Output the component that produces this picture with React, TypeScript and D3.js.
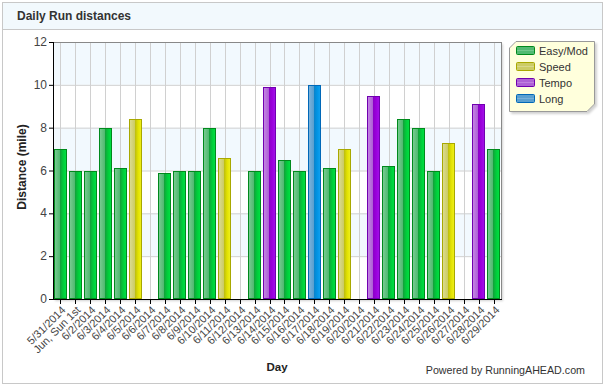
import React from "react";
import * as d3 from "d3";

// days shown on the x axis
const days = [
  "5/31/2014", "Jun, Sun 1st", "6/2/2014", "6/3/2014", "6/4/2014", "6/5/2014",
  "6/6/2014", "6/7/2014", "6/8/2014", "6/9/2014", "6/10/2014", "6/11/2014",
  "6/12/2014", "6/13/2014", "6/14/2014", "6/15/2014", "6/16/2014", "6/17/2014",
  "6/18/2014", "6/19/2014", "6/20/2014", "6/21/2014", "6/22/2014", "6/23/2014",
  "6/24/2014", "6/25/2014", "6/26/2014", "6/27/2014", "6/28/2014", "6/29/2014",
];

// miles per day (null = rest day)
const distances = [
  7, 6, 6, 8, 6.1, 8.4, null, 5.9, 6, 6, 8, 6.6, null, 6, 9.9, 6.5, 6, 10, 6.1, 7,
  null, 9.5, 6.2, 8.4, 8, 6, 7.3, null, 9.1, 7,
];

const runTypes = [
  "Easy/Mod", "Easy/Mod", "Easy/Mod", "Easy/Mod", "Easy/Mod", "Speed", "", "Easy/Mod",
  "Easy/Mod", "Easy/Mod", "Easy/Mod", "Speed", "", "Easy/Mod", "Tempo", "Easy/Mod",
  "Easy/Mod", "Long", "Easy/Mod", "Speed", "", "Tempo", "Easy/Mod", "Easy/Mod",
  "Easy/Mod", "Easy/Mod", "Speed", "", "Tempo", "Easy/Mod",
];

const legendKeys = ["Easy/Mod", "Speed", "Tempo", "Long"];
const yTicks = [0, 2, 4, 6, 8, 10, 12];

const palette = {
  "Easy/Mod": { id: "gEasy", stroke: "#008a1c", c: ["#7ccc94", "#52ba72", "#12a23a", "#00cc3a", "#00e244"] },
  Speed: { id: "gSpeed", stroke: "#a8a800", c: ["#dcdc96", "#cccc66", "#bebe10", "#e2e200", "#f0f020"] },
  Tempo: { id: "gTempo", stroke: "#7000b0", c: ["#c688e4", "#ae62d6", "#8c00c8", "#9a00dc", "#a412ea"] },
  Long: { id: "gLong", stroke: "#0068b8", c: ["#80b4dc", "#5aa0d0", "#0a84cc", "#0094e4", "#12a2f2"] },
};

const FONT = "Arial, 'Liberation Sans', sans-serif";

export default function App() {
  const W = 605;
  const H = 386;
  const m = { left: 53, right: 501, top: 42, bottom: 299 };

  const x = d3.scaleBand().domain(days).range([m.left, m.right]).paddingInner(0.12).paddingOuter(0.06);
  const y = d3.scaleLinear().domain([0, 12]).range([m.bottom, m.top]);
  const center = (d) => x(d) + x.bandwidth() / 2;

  const legendY = d3.scalePoint().domain(legendKeys).range([51, 99]);
  const lx0 = 509, ly0 = 41, lx1 = 594, ly1 = 111, cut = 7;

  return (
    <svg
      width={W}
      height={H}
      style={{ position: "fixed", left: 0, top: 0, fontFamily: FONT }}
    >
      <defs>
        {legendKeys.map((k) => {
          const p = palette[k];
          return (
            <linearGradient key={k} id={p.id} x1="0" x2="1" y1="0" y2="0">
              <stop offset="0" stopColor={p.c[0]} />
              <stop offset="0.42" stopColor={p.c[1]} />
              <stop offset="0.48" stopColor={p.c[2]} />
              <stop offset="0.72" stopColor={p.c[3]} />
              <stop offset="1" stopColor={p.c[4]} />
            </linearGradient>
          );
        })}
        <filter id="shadow" x="-10%" y="-10%" width="130%" height="130%">
          <feDropShadow dx="2" dy="2" stdDeviation="1.2" floodColor="#000" floodOpacity="0.18" />
        </filter>
      </defs>

      {/* panel */}
      <rect x={2.5} y={2.5} width={W - 5} height={H - 5} fill="#fff" stroke="#c8c8c8" />
      <rect x={2.5} y={2.5} width={W - 5} height={27} fill="#f2f9fd" stroke="#c8c8c8" />
      <text x={17} y={20} fontSize={12} fontWeight="bold" fill="#333">
        Daily Run distances
      </text>

      {/* plot background */}
      <rect
        x={m.left}
        y={m.top}
        width={m.right - m.left}
        height={m.bottom - m.top}
        fill="#fff"
        filter="url(#shadow)"
      />
      {yTicks.slice(0, -1).map((t, i) =>
        i % 2 === 0 ? null : (
          <rect
            key={"band" + t}
            x={m.left}
            y={y(t + 2)}
            width={m.right - m.left}
            height={y(t) - y(t + 2)}
            fill="#f2f9fe"
          />
        )
      )}

      {/* grid */}
      {yTicks.map((t) => (
        <line key={"gy" + t} x1={m.left} x2={m.right} y1={y(t) + 0.5} y2={y(t) + 0.5} stroke="#d0d0d0" />
      ))}
      {days.map((d) => (
        <line
          key={"gx" + d}
          x1={Math.round(center(d)) + 0.5}
          x2={Math.round(center(d)) + 0.5}
          y1={m.top}
          y2={m.bottom}
          stroke="#d0d0d0"
        />
      ))}

      {/* frame */}
      <line x1={m.left} x2={m.right} y1={m.top + 0.5} y2={m.top + 0.5} stroke="#888" />
      <line x1={m.right + 0.5} x2={m.right + 0.5} y1={m.top} y2={m.bottom} stroke="#888" />

      {/* bars */}
      {days.map((d, i) => {
        const v = distances[i];
        if (v == null) return null;
        const p = palette[runTypes[i]];
        return (
          <rect
            key={"bar" + d}
            x={Math.round(x(d)) + 0.5}
            y={Math.round(y(v)) + 0.5}
            width={Math.round(x.bandwidth()) - 1}
            height={Math.round(y(0)) - Math.round(y(v)) - 1}
            fill={`url(#${p.id})`}
            stroke={p.stroke}
          />
        );
      })}

      {/* axes */}
      <line x1={m.left + 0.5} x2={m.left + 0.5} y1={m.top} y2={m.bottom + 1} stroke="#000" />
      <line x1={m.left} x2={m.right + 1} y1={m.bottom + 0.5} y2={m.bottom + 0.5} stroke="#000" />
      {yTicks.map((t) => (
        <g key={"yt" + t}>
          <line x1={m.left - 4} x2={m.left} y1={y(t) + 0.5} y2={y(t) + 0.5} stroke="#000" />
          <text x={m.left - 6} y={y(t) + 4} fontSize={12} fill="#444" textAnchor="end">
            {t}
          </text>
        </g>
      ))}
      {days.map((d) => {
        const cx = Math.round(center(d)) + 0.5;
        return (
          <g key={"xt" + d}>
            <line x1={cx} x2={cx} y1={m.bottom} y2={m.bottom + 5} stroke="#000" />
            <text
              transform={`translate(${cx + 3},${m.bottom + 9}) rotate(-45)`}
              fontSize={11}
              fill="#444"
              textAnchor="end"
              dy="0.35em"
            >
              {d}
            </text>
          </g>
        );
      })}

      {/* axis titles */}
      <text
        transform={`translate(26,167) rotate(-90)`}
        fontSize={12}
        fontWeight="bold"
        fill="#222"
        textAnchor="middle"
      >
        Distance (mile)
      </text>
      <text x={(m.left + m.right) / 2} y={371} fontSize={11.5} fontWeight="bold" fill="#222" textAnchor="middle">
        Day
      </text>
      <text x={585} y={374} fontSize={10.7} fill="#333" textAnchor="end">
        Powered by RunningAHEAD.com
      </text>

      {/* legend */}
      <polygon
        points={`${lx0 + cut},${ly0 + 0.5} ${lx1 + 0.5},${ly0 + 0.5} ${lx1 + 0.5},${ly1 - cut} ${lx1 - cut},${ly1 + 0.5} ${lx0 + 0.5},${ly1 + 0.5} ${lx0 + 0.5},${ly0 + cut}`}
        fill="#ffffdc"
        stroke="#999"
        filter="url(#shadow)"
      />
      {legendKeys.map((k) => {
        const p = palette[k];
        const ly = legendY(k);
        return (
          <g key={"lg" + k}>
            <rect x={516.5} y={ly - 4.5} width={18} height={8} fill={p.c[1]} stroke={p.stroke} rx={1} />
            <line x1={517} x2={534} y1={ly - 0.5} y2={ly - 0.5} stroke={p.c[0]} opacity={0.8} />
            <text x={539} y={ly + 4} fontSize={11} fill="#333">
              {k}
            </text>
          </g>
        );
      })}
    </svg>
  );
}
